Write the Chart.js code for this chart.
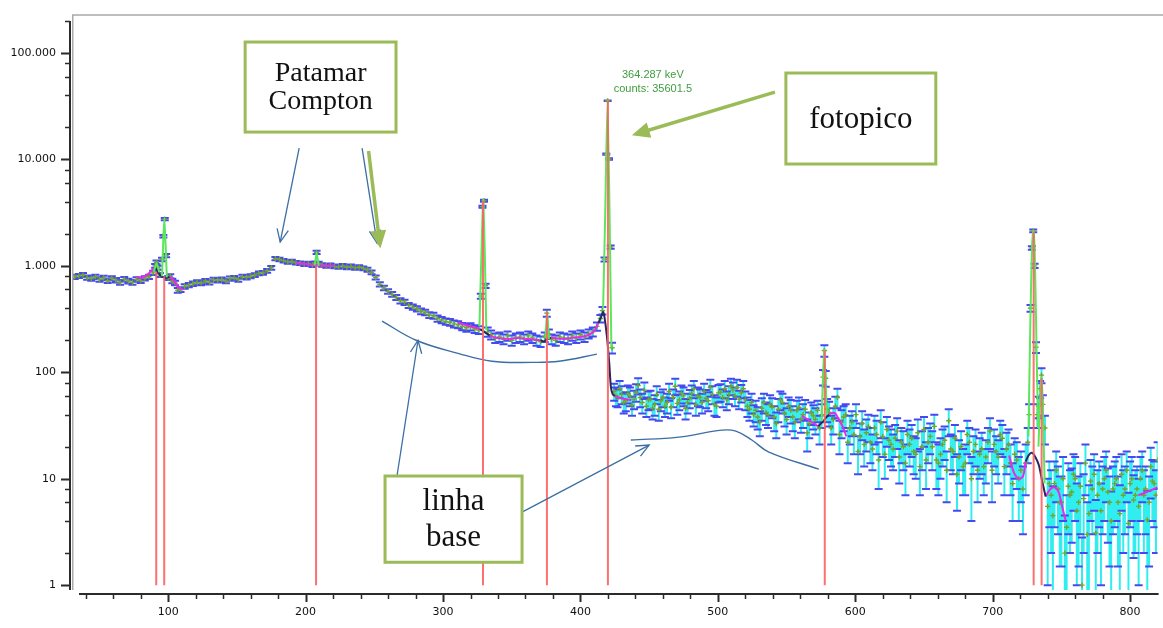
<!DOCTYPE html>
<html>
<head>
<meta charset="utf-8">
<script src="https://cdn.jsdelivr.net/npm/chart.js@4.4.1/dist/chart.umd.min.js"></script>
<style>
  html, body { margin: 0; padding: 0; background: #fff; }
  #wrap { position: relative; width: 1163px; height: 628px; }
</style>
</head>
<body>
<div id="wrap"><canvas id="spectrum"></canvas></div>
<script>
var energy = [
  32,35,38,41,44,47,50,53,56,59, 62,65,68,71,74,77,80,83,86,89,
  90.5,91.5,92.5,94,95.5,96.5,97.5,98.5,100,101.5, 103,105,107,109,
  112,115,118,121,124,127,130,133,136,139, 142,145,148,151,154,157,160,163,166,169, 172,175,
  178,181,184,187,190,193,196,199,202,205, 207,208,209.5,212,215,218,221,224,227,230, 233,236,239,242,245,248,
  251,254,257,260,263,266,269,272,275,278, 281,284,287,290,293,296,299,302,305,308, 311,314,317,320,323,326,
  327.5,328.7,329.8,331,
  332.5,335,338,341,344,347,350,353,356,359, 362,365,368,371,374,375.5,377,379,382,385, 388,391,394,397,400,403,406,409,412,414.5,
  416,417.5,418.8,419.8,420.8,422,423,
  424.5,427,430,433,436,439,442,445,448,451, 454,457,460,463,466,469,472,475,478,481, 484,487,490,493,496,499,502,505,508,511, 514,517,520,523,526,529,
  532,535,538,541,544,547,550,553,556,559, 562,565,568,571,574,
  575.5,576.5,577.5,578.5,579.5,
  581,584,587,590,593,596,599,602,605,608, 611,614,617,620,623,626,629,632,635,638,
  641,644,647,650,653,656,659,662,665,668, 671,674,677,680,683,686,689,692,695,698, 701,704,707,710,713,716,719,722,
  724,725.5,726.5,727.5,728.5,729.5,730.5,731.5,732.5,733.5, 734.5,735.5,736.5,738,
  740,742.5,745,747.5,750,752.5,755,757.5,760,762.5, 765,767.5,770,772.5,775,777.5,780,782.5,785,787.5,
  790,792.5,795,797.5,800,802.5,805,807.5,810,812.5, 815,817.5,820,
  // in-between channels of the noisy part
  425.8,428.5,431.5,434.5,437.5,440.5,443.5,446.5,449.5,452.5, 455.5,458.5,461.5,464.5,467.5,470.5,473.5,476.5,479.5,482.5,
  485.5,488.5,491.5,494.5,497.5,500.5,503.5,506.5,509.5,512.5, 515.5,518.5,521.5,524.5,527.5,530.5,533.5,536.5,539.5,542.5,
  545.5,548.5,551.5,554.5,557.5,560.5,563.5,566.5,569.5,572.5,
  582.5,585.5,588.5,591.5,594.5,597.5,600.5,603.5,606.5,609.5, 612.5,615.5,618.5,621.5,624.5,627.5,630.5,633.5,636.5,639.5,
  642.5,645.5,648.5,651.5,654.5,657.5,660.5,663.5,666.5,669.5, 672.5,675.5,678.5,681.5,684.5,687.5,690.5,693.5,696.5,699.5,
  702.5,705.5,708.5,711.5,714.5,717.5,720.5,
  741.2,743.8,746.2,748.8,751.2,753.8,756.2,758.8,761.2,763.8, 766.2,768.8,771.2,773.8,776.2,778.8,781.2,783.8,786.2,788.8,
  791.2,793.8,796.2,798.8,801.2,803.8,806.2,808.8,811.2,813.8, 816.2,818.8
];
var counts = [
  790,805,820,775,760,790,745,770,725,765, 735,700,750,720,700,745,725,765,790,860,
  1000,1080,960,820,1150,1900,2750,1250,770,800, 720,690,590,600,
  640,660,680,700,690,720,700,740,730,745, 720,760,770,745,790,780,800,820,850,860, 900,960,
  1170,1150,1120,1090,1100,1070,1060,1040,1050,1020, 1060,1340,1050,1020,1000,1010,990,980,1000,970, 990,960,975,950,920,870,
  780,670,620,575,540,505,470,455,425,410, 395,375,365,345,340,320,310,300,295,285, 280,270,262,268,255,250,
  520,3600,4100,650,
  240,225,210,215,205,220,200,210,215,205, 220,210,200,195,215,360,230,205,200,215, 210,205,220,210,225,215,230,240,270,320,
  380,1150,11200,35600,10100,1500,170,
  66,58,62,54,60,56,75,52,48,56, 50,45,58,52,47,74,55,60,52,63, 50,58,66,54,62,48,65,70,62,68, 72,64,55,45,40,38,
  46,42,50,38,45,52,36,44,34,47, 40,27,42,36,30,
  40,90,160,88,45,
  42,36,58,34,40,30,26,18,33,27, 22,30,15,25,29,21,24,16,20,26,
  24,17,13,29,22,20,15,17,23,35, 18,11,20,14,22,18,12,19,16,28, 21,16,24,19,14,17,10,8,
  14,22,40,400,1470,2130,1000,172,40,48, 70,94,50,30,
  5.5,7,9,8,6,2,8.5,7.5,10,6, 1,14,4.7,8,3.1,9,8,12,6,8,
  10,4.7,7,12,9,6.3,8,10,7,4.1, 13,9,15,
  60,70,52,63,49,65,58,68,55,46, 62,54,48,66,58,51,63,46,57,70,
  60,52,57,72,50,64,58,55,74,60, 56,70,48,52,44,34,52,40,47,33,
  55,41,48,38,44,36,45,33,39,44,
  30,48,26,38,22,34,40,25,21,31, 19,26,34,17,23,19,28,22,14,21,
  18,27,20,15,25,31,14,21,12,19, 24,16,13,26,10,21,17,13,22,12,
  18,26,13,21,9,15,12,
  9,4.5,12,6,10,3.5,7,11,5,8.5, 6.5,3,9.5,11,7,5,10,7.5,4,9,
  6,11,8,3.8,10,7,5.5,12,8,6, 9.5,7
];
var sigma = [
  36,36,36,36,36,36,36,36,36,36, 36,36,36,36,36,36,36,36,36,38,
  40,42,40,36,44,55,70,45,35,36, 35,34,31,31,
  32,32,32,32,32,32,32,32,32,32, 34,34,34,34,34,34,34,34,34,34, 36,38,
  42,42,42,42,42,42,42,42,42,42, 42,48,42,41,40,40,40,39,40,39, 40,39,39,38,38,36,
  34,31,30,29,28,27,26,25,24,24, 23,23,22,22,22,21,21,21,21,21, 21,21,21,21,21,21,
  28,80,85,30,
  24,22,22,22,22,22,22,22,22,22, 22,22,22,22,22,28,22,22,22,22, 22,22,22,22,22,22,22,23,24,26,
  30,50,150,260,140,55,20,
  12,11,12,11,12,11,13,11,10,11, 11,10,11,11,10,13,11,12,11,12, 11,11,12,11,12,10,12,13,12,12, 13,12,11,10,9,9,
  11,10,11,10,11,11,10,11,10,11, 10,9,10,10,9,
  10,15,20,15,11,
  11,10,12,10,10,9,9,7,10,9, 8,9,7,9,9,8,8,7,8,9,
  8,7,6,9,8,8,7,7,8,10, 7,6,8,7,8,7,6,8,7,9, 8,7,8,8,7,7,6,5,
  7,8,10,30,55,65,45,20,10,11, 13,15,11,9,
  4.5,5,5.5,5,4.5,2.5,5.5,5,6,4.5, 1.8,7,4,5,3.2,5.5,5,6,4.5,5,
  6,4,5,6,5.5,4.5,5,6,5,3.6, 6.5,5.5,7,
  12,13,11,12,10,12,11,12,11,10, 12,11,10,12,11,11,12,10,11,13,
  12,11,11,13,11,12,11,11,13,12, 11,13,10,11,10,9,11,10,10,9,
  11,10,10,10,10,9,10,9,10,10,
  9,11,9,10,8,9,10,8,8,9, 7,9,10,7,8,7,9,8,7,8,
  7,9,8,7,8,9,7,8,6,7, 8,7,6,9,6,8,7,6,8,6,
  7,9,6,8,5,7,6,
  5.5,4,6,4.5,6,3.5,5,6,4,5.5, 4.5,3,5.5,6,5,4,6,5,3.6,5.5,
  4.5,6,5,3.6,6,5,4.5,6,5,4.5, 5.5,5
];

// fitted peak shapes (green)
var peakFitE = [89.5,90.8,91.5,92.3,93.5, null, 95.5,96.4,97.2,98,99, null, 206.5,207.5,208,208.6,209.5, null,
  326.5,328,329.2,330.3,331.5, null, 374.5,375.3,375.8,376.3,377, null, 416.5,418,419.7,421.2,422.5, null,
  575.5,576.5,577.4,578.3,579.3, null, 726,727.5,728.7,729.6,730.6,731.8,733, null, 733.3,734.5,735.5,736.4,737.8];
var peakFitC = [880,1000,1060,1000,870, null, 800,1700,2800,1700,780, null, 1010,1200,1330,1200,1000, null,
  270,1400,4200,1500,250, null, 210,300,370,300,205, null, 400,3000,36000,3000,170, null,
  35,90,165,90,40, null, 25,350,1600,2150,1300,200,30, null, 20,55,90,50,9];

// background fit: magenta parts and dark baseline parts under the peaks
var bgFitE = [77,80,83,86,88.5,90.5, null, 101,103,105,107,109,111, null, 193,200,207,214,221, null,
  311,315,319,324,327, null, 334,338,343,348,354,360,366,371, null, 378.5,383,388,393,398,403,408,411,413, null,
  425,428,432,437, null, 561,564,567,570,573, null, 581,583,585.5,588,591,593.5, null,
  712,714,716,719,722,724, null, 738.5,742,745,748,750.5,753, null, 806,812,820];
var bgFitC = [790,770,800,850,920,960, null, 790,760,700,640,610,600, null, 1060,1040,1020,1005,1000, null,
  292,282,272,262,255, null, 222,212,208,206,210,207,203,200, null, 212,208,206,210,214,218,232,255,290, null,
  60,58,56,55, null, 39,37,35,33,31, null, 40,41.5,41,36,30.5,25, null,
  16.5,13,11,10,10.5,14.5, null, 6.8,8,8.3,7.5,5.5,4.1, null, 7,7.5,8.3];
var baseE = [90.5,92,94,96,98,100,101, null, 327,329,331,334, null, 371,373.5,376,378.5, null,
  413,415,416.5,417.5,419.3,421,422.2,423.5,425, null, 573,575,577,579,581, null,
  724,726,728.5,731,733.5,736,738.5];
var baseC = [960,900,820,790,770,780,790, null, 255,245,235,222, null, 200,195,205,212, null,
  290,330,370,330,215,120,72,62,60, null, 31,33,35,38,40, null,
  14.5,16.5,17.5,16,13.5,9.5,6.8];

// identified peaks (red markers)
var peakE = [91.3, 97.1, 207.6, 329.1, 375.6, 420, 577.8, 729.8, 735.6];
var peakTop = [880, 800, 1000, 4100, 370, 35600, 160, 2100, 88];

// axes
var xTickValues = [100, 200, 300, 400, 500, 600, 700, 800];
var xTickLabels = ['100', '200', '300', '400', '500', '600', '700', '800'];
var xMinorTicks = [40,60,80,120,140,160,180,220,240,260,280,320,340,360,380,420,440,460,480,
  520,540,560,580,620,640,660,680,720,740,760,780];
var yTickValues = [1, 10, 100, 1000, 10000, 100000];
var yTickLabels = ['1', '10', '100', '1.000', '10.000', '100.000'];
var yMinorTicks = [2,4,6,8,20,40,60,80,200,400,600,800,2000,4000,6000,8000,
  20000,40000,60000,80000,200000];

// hand-drawn notes (in chart units)
var noteBoxes = [
  { e1: 156, e2: 265.8, c1: 126900, c2: 18090, lines: ['Patamar', 'Compton'], size: 28, gap: 28 },
  { e1: 549.5, e2: 658.6, c1: 64900, c2: 9060, lines: ['fotopico'], size: 31, gap: 0 },
  { e1: 257.8, e2: 357.5, c1: 10.6, c2: 1.64, lines: ['linha', 'base'], size: 31, gap: 36 }
];
var noteArrows = [
  { from: [195.3, 12800], to: [181.5, 1674], green: false },
  { from: [241.1, 12800], to: [252, 1637], green: false },
  { from: [245.8, 12000], to: [254, 1600], green: true },
  { from: [541.5, 42990], to: [440.4, 17330], green: true },
  { from: [266.5, 10.6], to: [281.8, 200], green: false },
  { from: [357.5, 4.86], to: [450, 20.7], green: false }
];
var curve1E = [255.6, 280.4, 311.6, 335.6, 364.7, 384.4, 412];
var curve1C = [303, 200, 150, 127, 124, 127, 148];
var curve2E = [436.7, 471.6, 503, 513.1, 524.7, 537.1, 573.5];
var curve2C = [23.1, 24.6, 28.6, 28, 23.1, 17.8, 12.3];

function pts(xs, ys) {
  return xs.map(function(v, i) { return { x: v === null ? NaN : v, y: ys[i] }; });
}
var redSegs = [];
peakE.forEach(function(e, i) {
  redSegs.push({ x: e, y: 1 }, { x: e, y: peakTop[i] }, { x: e, y: null });
});

var errorBars = {
  id: 'errorBars',
  beforeDatasetsDraw: function(chart) {
    var ctx = chart.ctx, a = chart.chartArea, x = chart.scales.x, y = chart.scales.y;
    ctx.save();
    ctx.beginPath();
    ctx.rect(a.left, a.top, a.right - a.left, a.bottom - a.top);
    ctx.clip();
    var segs = energy.map(function(e, i) {
      var lo = counts[i] - sigma[i];
      return {
        px: x.getPixelForValue(e),
        hi: y.getPixelForValue(counts[i] + sigma[i]),
        lo: lo > y.min ? y.getPixelForValue(lo) : a.bottom + 3,
        hasLo: lo > y.min
      };
    });
    ctx.strokeStyle = '#30eef0';
    ctx.lineWidth = 2;
    ctx.beginPath();
    segs.forEach(function(s) { ctx.moveTo(s.px, s.hi); ctx.lineTo(s.px, s.lo); });
    ctx.stroke();
    ctx.strokeStyle = '#4848f2';
    ctx.lineWidth = 2;
    ctx.beginPath();
    segs.forEach(function(s) {
      ctx.moveTo(s.px - 4, s.hi); ctx.lineTo(s.px + 4, s.hi);
      if (s.hasLo) { ctx.moveTo(s.px - 4, s.lo); ctx.lineTo(s.px + 4, s.lo); }
    });
    ctx.stroke();
    ctx.restore();
  }
};

function arrowHead(ctx, x0, y0, x1, y1, len, filled) {
  var ang = Math.atan2(y1 - y0, x1 - x0), sp = 0.42;
  ctx.beginPath();
  ctx.moveTo(x1 - len * Math.cos(ang - sp), y1 - len * Math.sin(ang - sp));
  ctx.lineTo(x1, y1);
  ctx.lineTo(x1 - len * Math.cos(ang + sp), y1 - len * Math.sin(ang + sp));
  if (filled) { ctx.closePath(); ctx.fill(); }
  ctx.stroke();
}

var axesAndNotes = {
  id: 'axesAndNotes',
  afterDraw: function(chart) {
    var ctx = chart.ctx, a = chart.chartArea, x = chart.scales.x, y = chart.scales.y;
    ctx.save();
    // plot frame
    ctx.strokeStyle = '#a9a9a9';
    ctx.lineWidth = 1.5;
    ctx.beginPath();
    ctx.moveTo(a.left + 0.75, a.bottom);
    ctx.lineTo(a.left + 0.75, a.top - 6);
    ctx.lineTo(chart.width, a.top - 6);
    ctx.stroke();
    // y axis
    var yx = a.left - 2;
    ctx.strokeStyle = '#2b2b2b';
    ctx.lineWidth = 2;
    ctx.beginPath();
    ctx.moveTo(yx, y.getPixelForValue(200000));
    ctx.lineTo(yx, a.bottom);
    yTickValues.forEach(function(v) {
      var py = Math.round(y.getPixelForValue(v)) + 0.5;
      ctx.moveTo(yx - 9, py); ctx.lineTo(yx, py);
    });
    ctx.stroke();
    ctx.lineWidth = 1.5;
    ctx.beginPath();
    yMinorTicks.forEach(function(v) {
      var py = Math.round(y.getPixelForValue(v)) + 0.5;
      ctx.moveTo(yx - 5, py); ctx.lineTo(yx, py);
    });
    ctx.stroke();
    // x axis
    var xy = a.bottom + 4;
    ctx.lineWidth = 2;
    ctx.beginPath();
    ctx.moveTo(a.left + 7, xy);
    ctx.lineTo(a.right + 1, xy);
    xTickValues.forEach(function(v) {
      var px = Math.round(x.getPixelForValue(v)) + 0.5;
      ctx.moveTo(px, xy); ctx.lineTo(px, xy + 8);
    });
    ctx.stroke();
    ctx.lineWidth = 1.5;
    ctx.beginPath();
    xMinorTicks.forEach(function(v) {
      var px = Math.round(x.getPixelForValue(v)) + 0.5;
      ctx.moveTo(px, xy); ctx.lineTo(px, xy + 5);
    });
    ctx.stroke();

    // peak readout
    ctx.fillStyle = '#3f9d3f';
    ctx.font = '11px "Liberation Sans"';
    ctx.textAlign = 'center';
    ctx.textBaseline = 'middle';
    ctx.fillText('364.287 keV', x.getPixelForValue(452.7), y.getPixelForValue(62100));
    ctx.fillText('counts: 35601.5', x.getPixelForValue(452.7), y.getPixelForValue(45900));

    // arrows
    noteArrows.forEach(function(n) {
      var x0 = x.getPixelForValue(n.from[0]), y0 = y.getPixelForValue(n.from[1]);
      var x1 = x.getPixelForValue(n.to[0]), y1 = y.getPixelForValue(n.to[1]);
      ctx.strokeStyle = n.green ? '#9bbb59' : '#3b6fa3';
      ctx.fillStyle = ctx.strokeStyle;
      ctx.lineWidth = n.green ? 3.5 : 1.3;
      ctx.beginPath();
      ctx.moveTo(x0, y0);
      ctx.lineTo(x1, y1);
      ctx.stroke();
      arrowHead(ctx, x0, y0, x1, y1, n.green ? 13 : 14, n.green);
    });

    // boxes
    noteBoxes.forEach(function(b) {
      var l = x.getPixelForValue(b.e1), r = x.getPixelForValue(b.e2);
      var t = y.getPixelForValue(b.c1), btm = y.getPixelForValue(b.c2);
      ctx.fillStyle = '#ffffff';
      ctx.fillRect(l, t, r - l, btm - t);
      ctx.strokeStyle = '#9bbb59';
      ctx.lineWidth = 3;
      ctx.strokeRect(l, t, r - l, btm - t);
      ctx.fillStyle = '#111111';
      ctx.font = b.size + 'px "Liberation Serif"';
      ctx.textAlign = 'center';
      ctx.textBaseline = 'middle';
      var cx = (l + r) / 2, cy = (t + btm) / 2 + 1;
      b.lines.forEach(function(s, i) {
        ctx.fillText(s, cx, cy + (i - (b.lines.length - 1) / 2) * b.gap);
      });
    });
    ctx.restore();
  }
};

var ctx = document.getElementById('spectrum').getContext('2d');
var chart = new Chart(ctx, {
  type: 'scatter',
  data: {
    datasets: [
      { label: 'marks', data: redSegs, showLine: true, borderColor: 'rgba(255,95,95,0.9)', borderWidth: 2,
        pointRadius: 0, spanGaps: false, order: 1 },
      { label: 'peaks', data: pts(peakFitE, peakFitC), showLine: true, borderColor: '#5ce65c', borderWidth: 2,
        pointRadius: 0, spanGaps: false, tension: 0.2, order: 2 },
      { label: 'base', data: pts(baseE, baseC), showLine: true, borderColor: '#26285e', borderWidth: 2,
        pointRadius: 0, spanGaps: false, tension: 0.3, order: 3 },
      { label: 'fit', data: pts(bgFitE, bgFitC), showLine: true, borderColor: '#e62be6', borderWidth: 2,
        pointRadius: 0, spanGaps: false, tension: 0.3, order: 3 },
      { label: 'curve1', data: pts(curve1E, curve1C), showLine: true, borderColor: '#3b6fa3', borderWidth: 1.4,
        pointRadius: 0, tension: 0.4, order: 4 },
      { label: 'curve2', data: pts(curve2E, curve2C), showLine: true, borderColor: '#3b6fa3', borderWidth: 1.4,
        pointRadius: 0, tension: 0.4, order: 4 },
      { label: 'counts', data: pts(energy, counts), pointStyle: 'cross', pointRadius: 2.6,
        borderColor: '#71a62a', borderWidth: 1.4, order: 5 }
    ]
  },
  options: {
    responsive: true,
    maintainAspectRatio: false,
    animation: false,
    layout: { padding: { left: 0, right: 4, top: 21, bottom: 0 } },
    plugins: { legend: { display: false }, tooltip: { enabled: false } },
    scales: {
      x: {
        type: 'linear', min: 30, max: 820,
        afterBuildTicks: function(s) { s.ticks = xTickValues.map(function(v) { return { value: v }; }); },
        afterFit: function(s) { s.height = 38; },
        grid: { display: false, drawTicks: true, tickLength: 10 },
        border: { display: false },
        ticks: {
          padding: 6, color: '#111111', maxRotation: 0, autoSkip: false,
          font: { family: 'DejaVu Sans', size: 11 },
          callback: function(v) { return xTickLabels[xTickValues.indexOf(v)]; }
        }
      },
      y: {
        type: 'logarithmic', min: 0.9, max: 200000,
        afterBuildTicks: function(s) { s.ticks = yTickValues.map(function(v) { return { value: v }; }); },
        afterFit: function(s) { s.width = 72; },
        grid: { display: false, drawTicks: true, tickLength: 10 },
        border: { display: false },
        ticks: {
          padding: 6, color: '#111111', autoSkip: false,
          font: { family: 'DejaVu Sans', size: 11 },
          callback: function(v) { return yTickLabels[yTickValues.indexOf(v)]; }
        }
      }
    }
  },
  plugins: [errorBars, axesAndNotes]
});
</script>
</body>
</html>
